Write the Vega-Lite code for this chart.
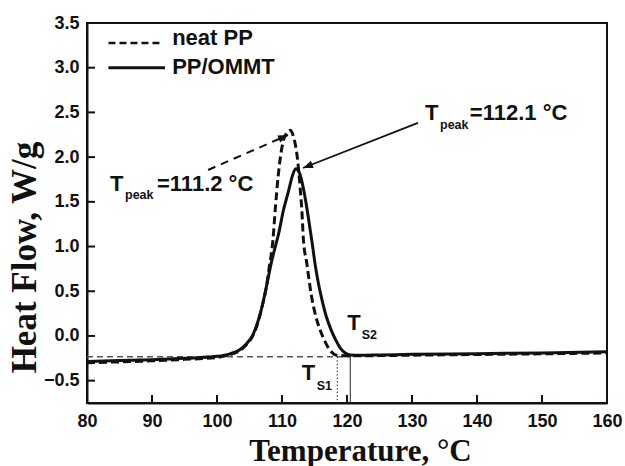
{
  "$schema": "https://vega.github.io/schema/vega-lite/v6.json",
  "width": 520,
  "height": 380,
  "autosize": {"type": "none"},
  "padding": {"left": 87, "top": 23, "right": 18, "bottom": 63},
  "background": "white",
  "config": {
    "view": {"stroke": "#111", "strokeWidth": 2},
    "axis": {
      "grid": false,
      "domainColor": "#111",
      "domainWidth": 2,
      "ticks": false,
      "labelFlush": false,
      "labelFont": "Liberation Sans",
      "labelFontWeight": "bold",
      "labelFontSize": 18,
      "labelColor": "#111",
      "titleFont": "Liberation Serif",
      "titleFontWeight": "bold",
      "titleColor": "#111"
    }
  },
  "layer": [
    {
      "data": {"values": [{"x1": 80, "x2": 120.5, "y": -0.232}]},
      "mark": {"type": "rule", "color": "#555", "strokeWidth": 1.5, "strokeDash": [6, 4]},
      "encoding": {
        "x": {"field": "x1", "type": "quantitative", "scale": {"domain": [80, 160], "nice": false},
          "axis": {"values": [80, 90, 100, 110, 120, 130, 140, 150, 160], "labelPadding": 9, "title": "Temperature, °C", "titleFontSize": 31, "titleX": 273, "titleY": 57, "titleBaseline": "alphabetic", "titleAnchor": null, "titleAlign": "center"}},
        "x2": {"field": "x2"},
        "y": {"field": "y", "type": "quantitative", "scale": {"domain": [-0.75, 3.5], "nice": false, "zero": false},
          "axis": {"values": [-0.5, 0, 0.5, 1, 1.5, 2, 2.5, 3, 3.5], "format": ".1f", "labelPadding": 8, "title": "Heat Flow, W/g", "titleFontSize": 35, "titleX": -52, "titleY": 234, "titleBaseline": "alphabetic", "titleAnchor": null, "titleAlign": "center", "titleAngle": 270}}
      }
    },
    {
      "data": {"values": [{"v": 90}, {"v": 100}, {"v": 110}, {"v": 120}, {"v": 130}, {"v": 140}, {"v": 150}]},
      "mark": {"type": "tick", "orient": "vertical", "size": 16, "thickness": 2, "color": "#111", "opacity": 1, "clip": true},
      "encoding": {
        "x": {"field": "v", "type": "quantitative"},
        "y": {"datum": -0.75, "type": "quantitative"}
      }
    },
    {
      "data": {"values": [{"v": -0.5}, {"v": 0}, {"v": 0.5}, {"v": 1}, {"v": 1.5}, {"v": 2}, {"v": 2.5}, {"v": 3}]},
      "mark": {"type": "tick", "orient": "horizontal", "size": 16, "thickness": 2, "color": "#111", "opacity": 1, "clip": true},
      "encoding": {
        "y": {"field": "v", "type": "quantitative"},
        "x": {"datum": 80, "type": "quantitative"}
      }
    },
    {
      "data": {"values": [{"x": 118.5, "y1": -0.232, "y2": -0.75}]},
      "mark": {"type": "rule", "color": "#222", "strokeWidth": 1, "strokeDash": [1.5, 2]},
      "encoding": {
        "x": {"field": "x", "type": "quantitative"},
        "y": {"field": "y1", "type": "quantitative"},
        "y2": {"field": "y2"}
      }
    },
    {
      "data": {"values": [{"x": 120.5, "y1": -0.213, "y2": -0.75}]},
      "mark": {"type": "rule", "color": "#222", "strokeWidth": 1},
      "encoding": {
        "x": {"field": "x", "type": "quantitative"},
        "y": {"field": "y1", "type": "quantitative"},
        "y2": {"field": "y2"}
      }
    },
    {
      "data": {"values": [
        {"T": 80, "HF": -0.30}, {"T": 85, "HF": -0.29}, {"T": 90, "HF": -0.278}, {"T": 95, "HF": -0.262}, {"T": 100, "HF": -0.24},
        {"T": 102, "HF": -0.21}, {"T": 103.5, "HF": -0.165}, {"T": 104.5, "HF": -0.1}, {"T": 105.5, "HF": 0.0},
        {"T": 106.5, "HF": 0.2}, {"T": 107.1, "HF": 0.38}, {"T": 107.6, "HF": 0.55}, {"T": 108.0, "HF": 0.75},
        {"T": 108.6, "HF": 1.07}, {"T": 109.0, "HF": 1.45}, {"T": 109.4, "HF": 1.78}, {"T": 110.1, "HF": 2.15},
        {"T": 110.7, "HF": 2.27}, {"T": 111.3, "HF": 2.30}, {"T": 111.8, "HF": 2.22}, {"T": 112.4, "HF": 1.97},
        {"T": 112.8, "HF": 1.65}, {"T": 113.05, "HF": 1.41}, {"T": 113.3, "HF": 1.07}, {"T": 113.8, "HF": 0.82},
        {"T": 114.5, "HF": 0.46}, {"T": 115.2, "HF": 0.22}, {"T": 115.9, "HF": 0.06}, {"T": 116.6, "HF": -0.06},
        {"T": 117.4, "HF": -0.16}, {"T": 118.4, "HF": -0.215}, {"T": 120, "HF": -0.222}, {"T": 125, "HF": -0.22},
        {"T": 130, "HF": -0.215}, {"T": 140, "HF": -0.208}, {"T": 150, "HF": -0.2}, {"T": 160, "HF": -0.19}
      ]},
      "mark": {"type": "line", "color": "#111", "strokeWidth": 3, "strokeDash": [8, 4], "interpolate": "monotone"},
      "encoding": {
        "x": {"field": "T", "type": "quantitative"},
        "y": {"field": "HF", "type": "quantitative"}
      }
    },
    {
      "data": {"values": [
        {"T": 80, "HF": -0.285}, {"T": 85, "HF": -0.276}, {"T": 90, "HF": -0.265}, {"T": 95, "HF": -0.25}, {"T": 100, "HF": -0.228},
        {"T": 102, "HF": -0.2}, {"T": 103.5, "HF": -0.155}, {"T": 104.5, "HF": -0.09}, {"T": 105.5, "HF": 0.01},
        {"T": 106.5, "HF": 0.21}, {"T": 107.1, "HF": 0.38}, {"T": 107.6, "HF": 0.55}, {"T": 108.3, "HF": 0.80},
        {"T": 108.9, "HF": 0.98}, {"T": 109.5, "HF": 1.15}, {"T": 110.2, "HF": 1.40}, {"T": 111.0, "HF": 1.62},
        {"T": 111.6, "HF": 1.79}, {"T": 112.1, "HF": 1.87}, {"T": 112.7, "HF": 1.82}, {"T": 113.4, "HF": 1.61},
        {"T": 114.0, "HF": 1.35}, {"T": 114.6, "HF": 1.06}, {"T": 115.1, "HF": 0.80}, {"T": 115.6, "HF": 0.59},
        {"T": 116.1, "HF": 0.42}, {"T": 116.8, "HF": 0.22}, {"T": 117.6, "HF": 0.06}, {"T": 118.3, "HF": -0.05},
        {"T": 119.0, "HF": -0.14}, {"T": 119.8, "HF": -0.195}, {"T": 120.5, "HF": -0.213}, {"T": 122, "HF": -0.215},
        {"T": 125, "HF": -0.212}, {"T": 130, "HF": -0.206}, {"T": 140, "HF": -0.198}, {"T": 150, "HF": -0.19}, {"T": 160, "HF": -0.178}
      ]},
      "mark": {"type": "line", "color": "#111", "strokeWidth": 3, "interpolate": "monotone"},
      "encoding": {
        "x": {"field": "T", "type": "quantitative"},
        "y": {"field": "HF", "type": "quantitative"}
      }
    },
    {
      "data": {"values": [{"x1": 83.3, "x2": 91.4, "y": 3.276}]},
      "mark": {"type": "rule", "color": "#111", "strokeWidth": 2.5, "strokeDash": [7, 4]},
      "encoding": {
        "x": {"field": "x1", "type": "quantitative"},
        "x2": {"field": "x2"},
        "y": {"field": "y", "type": "quantitative"}
      }
    },
    {
      "data": {"values": [{"x1": 83.3, "x2": 92.0, "y": 3.0}]},
      "mark": {"type": "rule", "color": "#111", "strokeWidth": 3},
      "encoding": {
        "x": {"field": "x1", "type": "quantitative"},
        "x2": {"field": "x2"},
        "y": {"field": "y", "type": "quantitative"}
      }
    },
    {
      "data": {"values": [{"x": 93.1, "y": 3.254, "label": "neat PP"}, {"x": 93.1, "y": 2.93, "label": "PP/OMMT"}]},
      "mark": {"type": "text", "font": "Liberation Sans", "fontWeight": "bold", "fontSize": 22, "align": "left", "baseline": "alphabetic", "color": "#111"},
      "encoding": {
        "x": {"field": "x", "type": "quantitative"},
        "y": {"field": "y", "type": "quantitative"},
        "text": {"field": "label"}
      }
    },
    {
      "data": {"values": [{"x1": 130.92, "y1": 2.382, "x2": 113.23, "y2": 1.878}]},
      "mark": {"type": "rule", "color": "#111", "strokeWidth": 1.8},
      "encoding": {
        "x": {"field": "x1", "type": "quantitative"},
        "y": {"field": "y1", "type": "quantitative"},
        "x2": {"field": "x2"},
        "y2": {"field": "y2"}
      }
    },
    {
      "data": {"values": [{"x1": 98.62, "y1": 1.856, "x2": 110.92, "y2": 2.247}]},
      "mark": {"type": "rule", "color": "#111", "strokeWidth": 2, "strokeDash": [8, 6]},
      "encoding": {
        "x": {"field": "x1", "type": "quantitative"},
        "y": {"field": "y1", "type": "quantitative"},
        "x2": {"field": "x2"},
        "y2": {"field": "y2"}
      }
    },
    {
      "data": {"values": [{"x": 113.23, "y": 1.878}]},
      "mark": {"type": "point", "shape": "M0,0L-0.38,1L0.38,1Z", "filled": true, "color": "#111", "opacity": 1, "size": 400, "angle": 248.6},
      "encoding": {
        "x": {"field": "x", "type": "quantitative"},
        "y": {"field": "y", "type": "quantitative"}
      }
    },
    {
      "data": {"values": [{"x": 110.92, "y": 2.247}]},
      "mark": {"type": "point", "shape": "M0,0L-0.38,1L0.38,1Z", "filled": true, "color": "#111", "opacity": 1, "size": 400, "angle": 67},
      "encoding": {
        "x": {"field": "x", "type": "quantitative"},
        "y": {"field": "y", "type": "quantitative"}
      }
    },
    {
      "data": {"values": [
        {"x": 132.0, "y": 2.415, "t": "T"}, {"x": 138.9, "y": 2.415, "t": "=112.1 °C"},
        {"x": 83.54, "y": 1.624, "t": "T"}, {"x": 90.77, "y": 1.624, "t": "=111.2 °C"},
        {"x": 113.03, "y": -0.493, "t": "T"}, {"x": 120.05, "y": 0.066, "t": "T"}
      ]},
      "mark": {"type": "text", "font": "Liberation Sans", "fontWeight": "bold", "fontSize": 22, "align": "left", "baseline": "alphabetic", "color": "#111"},
      "encoding": {
        "x": {"field": "x", "type": "quantitative"},
        "y": {"field": "y", "type": "quantitative"},
        "text": {"field": "t"}
      }
    },
    {
      "data": {"values": [
        {"x": 134.31, "y": 2.314, "t": "peak"}, {"x": 85.85, "y": 1.532, "t": "peak"},
        {"x": 115.34, "y": -0.605, "t": "S1"}, {"x": 122.26, "y": -0.038, "t": "S2"}
      ]},
      "mark": {"type": "text", "font": "Liberation Sans", "fontWeight": "bold", "fontSize": 12.5, "align": "left", "baseline": "alphabetic", "color": "#111"},
      "encoding": {
        "x": {"field": "x", "type": "quantitative"},
        "y": {"field": "y", "type": "quantitative"},
        "text": {"field": "t"}
      }
    }
  ]
}
